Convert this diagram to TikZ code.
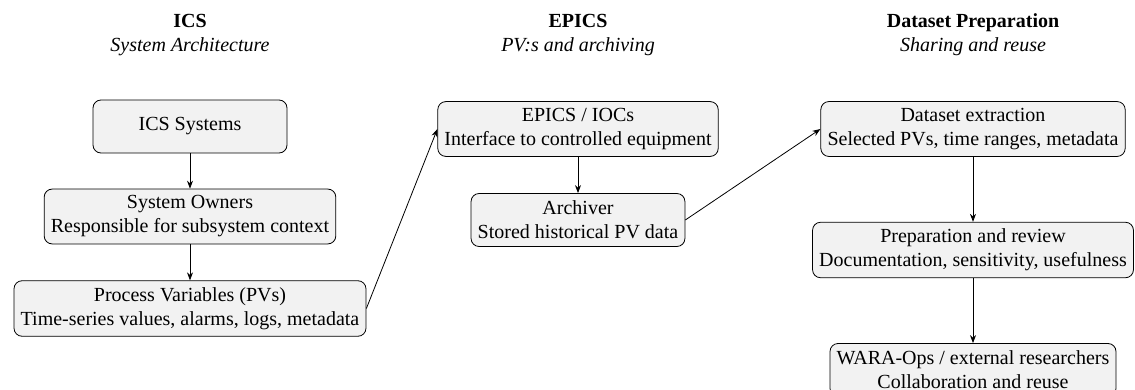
\documentclass[tikz,border=0pt]{standalone}
\usepackage{fontspec}
\setmainfont{Liberation Serif}
\usetikzlibrary{arrows.meta}
\begin{document}
\begin{tikzpicture}[x=0.5pt,y=-0.5pt,
  box/.style={draw, fill=gray!10, rounded corners=4pt, align=center, inner sep=3.33pt, minimum height=26.5pt, font=\fontsize{10}{12}\selectfont},
  title/.style={align=center, font=\fontsize{10}{12}\selectfont},
  arr/.style={-{Stealth[length=4pt,width=3pt]}, thin}]
\useasboundingbox (0,0) rectangle (1135,390);
\node[title] (t1) at (190,35) {\textbf{ICS}\\\textit{System Architecture}};
\node[title] (t2) at (578,35) {\textbf{EPICS}\\\textit{PV:s and archiving}};
\node[title] (t3) at (973,35) {\textbf{Dataset Preparation}\\\textit{Sharing and reuse}};

\node[box, minimum width=97pt] (ics) at (190,126.5) {ICS Systems};
\node[box] (own) at (190,216.5) {System Owners\\Responsible for subsystem context};
\node[box] (pv) at (190,308.5) {Process Variables (PVs)\\Time-series values, alarms, logs, metadata};

\node[box] (ioc) at (578,129) {EPICS / IOCs\\Interface to controlled equipment};
\node[box] (arch) at (578,220) {Archiver\\Stored historical PV data};

\node[box] (ext) at (973,129) {Dataset extraction\\Selected PVs, time ranges, metadata};
\node[box] (prep) at (973,250) {Preparation and review\\Documentation, sensitivity, usefulness};
\node[box] (wara) at (973,370) {WARA-Ops / external researchers\\Collaboration and reuse};

\draw[arr] (ics) -- (own);
\draw[arr] (own) -- (pv);
\draw[arr] (pv.east) -- (ioc.west);
\draw[arr] (ioc) -- (arch);
\draw[arr] (arch.east) -- (ext.west);
\draw[arr] (ext) -- (prep);
\draw[arr] (prep) -- (wara);
\end{tikzpicture}
\end{document}
